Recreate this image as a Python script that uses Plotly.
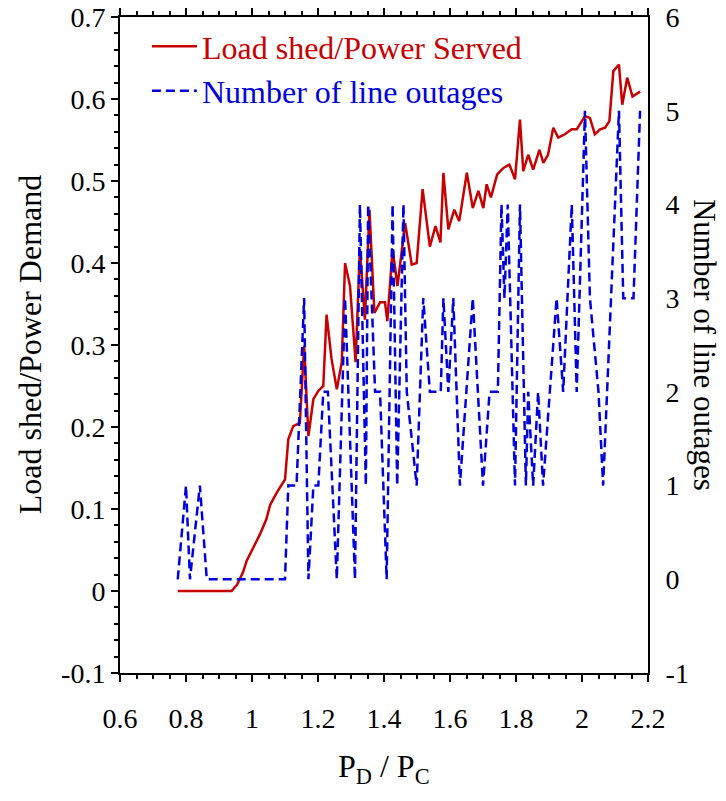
import plotly.graph_objects as go

# Load shed / power served (left axis)
red_x = [0.775, 0.938, 0.955, 0.973, 0.984, 1.024, 1.044, 1.055, 1.075, 1.10, 1.11, 1.125, 1.145,
         1.158, 1.171, 1.186, 1.201, 1.216, 1.226, 1.241, 1.257, 1.272, 1.282, 1.297, 1.314,
         1.327, 1.342, 1.356, 1.371, 1.388, 1.403, 1.41, 1.426, 1.441, 1.464, 1.484, 1.499,
         1.517, 1.539, 1.556, 1.571, 1.58, 1.595, 1.613, 1.628, 1.651, 1.669, 1.686, 1.701,
         1.711, 1.724, 1.743, 1.762, 1.78, 1.797, 1.812, 1.822, 1.837, 1.852, 1.871, 1.883,
         1.897, 1.913, 1.928, 1.948, 1.969, 1.984, 2.009, 2.024, 2.039, 2.055, 2.07, 2.083,
         2.095, 2.112, 2.122, 2.137, 2.153, 2.176]
red_y = [0.0, 0.0, 0.008, 0.023, 0.037, 0.069, 0.088, 0.105, 0.12, 0.136, 0.185, 0.201, 0.205,
         0.299, 0.189, 0.234, 0.244, 0.25, 0.337, 0.283, 0.246, 0.279, 0.40, 0.372, 0.279,
         0.417, 0.331, 0.465, 0.339, 0.352, 0.352, 0.329, 0.417, 0.372, 0.449, 0.398, 0.40,
         0.49, 0.42, 0.445, 0.425, 0.51, 0.441, 0.465, 0.451, 0.51, 0.467, 0.488, 0.467,
         0.496, 0.48, 0.508, 0.516, 0.52, 0.502, 0.575, 0.512, 0.532, 0.514, 0.538, 0.522,
         0.532, 0.565, 0.553, 0.557, 0.563, 0.563, 0.579, 0.577, 0.557, 0.563, 0.565, 0.573,
         0.634, 0.642, 0.593, 0.626, 0.603, 0.609]

# Number of line outages (right axis)
blue_x = [0.775, 0.80, 0.812, 0.842, 0.863, 1.10, 1.11, 1.135, 1.158, 1.171, 1.186, 1.201,
          1.216, 1.23, 1.257, 1.282, 1.312, 1.327, 1.345, 1.352, 1.373, 1.388, 1.408, 1.426,
          1.44, 1.459, 1.469, 1.499, 1.519, 1.539, 1.56, 1.572, 1.58, 1.595, 1.61, 1.63,
          1.669, 1.70, 1.72, 1.745, 1.756, 1.765, 1.775, 1.797, 1.812, 1.83, 1.837, 1.852,
          1.867, 1.882, 1.923, 1.943, 1.969, 1.984, 2.009, 2.024, 2.05, 2.064, 2.112, 2.125,
          2.156, 2.176]
blue_y = [0, 1, 0, 1, 0, 0, 1, 1, 3, 0, 1, 1,
          2, 2, 0, 3, 0, 4, 1, 4, 2, 2, 0, 4,
          1, 4, 2, 1, 3, 2, 2, 2, 3, 2, 3, 1,
          3, 1, 2, 2, 4, 3, 4, 1, 4, 1, 2, 1,
          2, 1, 3, 2, 4, 2, 5, 3, 2, 1, 5, 3,
          3, 5]

x_ticks = [0.6, 0.8, 1.0, 1.2, 1.4, 1.6, 1.8, 2.0, 2.2]
x_labels = ["0.6", "0.8", "1", "1.2", "1.4", "1.6", "1.8", "2", "2.2"]
y_ticks = [-0.1, 0, 0.1, 0.2, 0.3, 0.4, 0.5, 0.6, 0.7]
y_labels = ["-0.1", "0", "0.1", "0.2", "0.3", "0.4", "0.5", "0.6", "0.7"]
y2_ticks = [-1, 0, 1, 2, 3, 4, 5, 6]
y2_labels = ["-1", "0", "1", "2", "3", "4", "5", "6"]

RED = "#C80000"
BLUE = "#0000DD"
FONT = "Liberation Serif"

fig = go.Figure()
fig.add_trace(go.Scatter(
    x=red_x, y=red_y, mode="lines",
    line=dict(color=RED, width=2.5),
    name='<span style="color:%s">Load shed/Power Served</span>' % RED,
))
fig.add_trace(go.Scatter(
    x=blue_x, y=blue_y, mode="lines", yaxis="y2",
    line=dict(color=BLUE, width=2.5, dash="9px,5px"),
    name='<span style="color:%s">Number of line outages</span>' % BLUE,
))

fig.update_layout(
    width=726, height=801,
    margin=dict(l=120, r=78, t=17, b=128),
    paper_bgcolor="white", plot_bgcolor="white",
    font=dict(family=FONT, size=28, color="black"),
    showlegend=True,
    legend=dict(x=0.051, y=0.997, xanchor="left", yanchor="top",
                bgcolor="rgba(0,0,0,0)", font=dict(family=FONT, size=32),
                itemwidth=45, tracegroupgap=0),
    xaxis=dict(range=[0.6, 2.2], tickvals=x_ticks, ticktext=x_labels,
               automargin=False, ticklabeloverflow="allow",
               showgrid=False, zeroline=False, showline=True, linecolor="black",
               linewidth=2, mirror="ticks", ticks="outside", ticklen=7,
               tickwidth=2, tickcolor="black", ticklabelstandoff=12,
               minor=dict(dtick=0.05, ticks="outside", ticklen=4, tickcolor="black",
                          showgrid=False)),
    yaxis=dict(range=[-0.1, 0.7], tickvals=y_ticks, ticktext=y_labels,
               automargin=False, ticklabeloverflow="allow",
               showgrid=False, zeroline=False, showline=True, linecolor="black",
               linewidth=2, ticks="outside", ticklen=7, tickwidth=2, tickcolor="black",
               minor=dict(dtick=0.02, ticks="outside", ticklen=4, tickcolor="black",
                          showgrid=False)),
    yaxis2=dict(range=[-1, 6], tickvals=y2_ticks, ticktext=y2_labels,
                automargin=False, ticklabeloverflow="allow",
                overlaying="y", side="right", showgrid=False, zeroline=False,
                showline=True, linecolor="black", linewidth=2, ticks="",
                ticklabelstandoff=10),
    annotations=[
        dict(text="Load shed/Power Demand", xref="paper", yref="paper",
             x=-0.17, y=0.5, textangle=-90, showarrow=False,
             xanchor="center", yanchor="middle",
             font=dict(family=FONT, size=32)),
        dict(text="Number of line outages", xref="paper", yref="paper",
             x=1.108, y=0.5, textangle=90, showarrow=False,
             xanchor="center", yanchor="middle",
             font=dict(family=FONT, size=31)),
        dict(text="P<sub>D</sub> / P<sub>C</sub>", xref="paper", yref="paper",
             x=0.5, y=-0.146, showarrow=False, xanchor="center", yanchor="middle",
             font=dict(family=FONT, size=32)),
    ],
)

fig.write_html("out.html", config={"displayModeBar": False},
               post_script="document.body.style.margin='0';")
